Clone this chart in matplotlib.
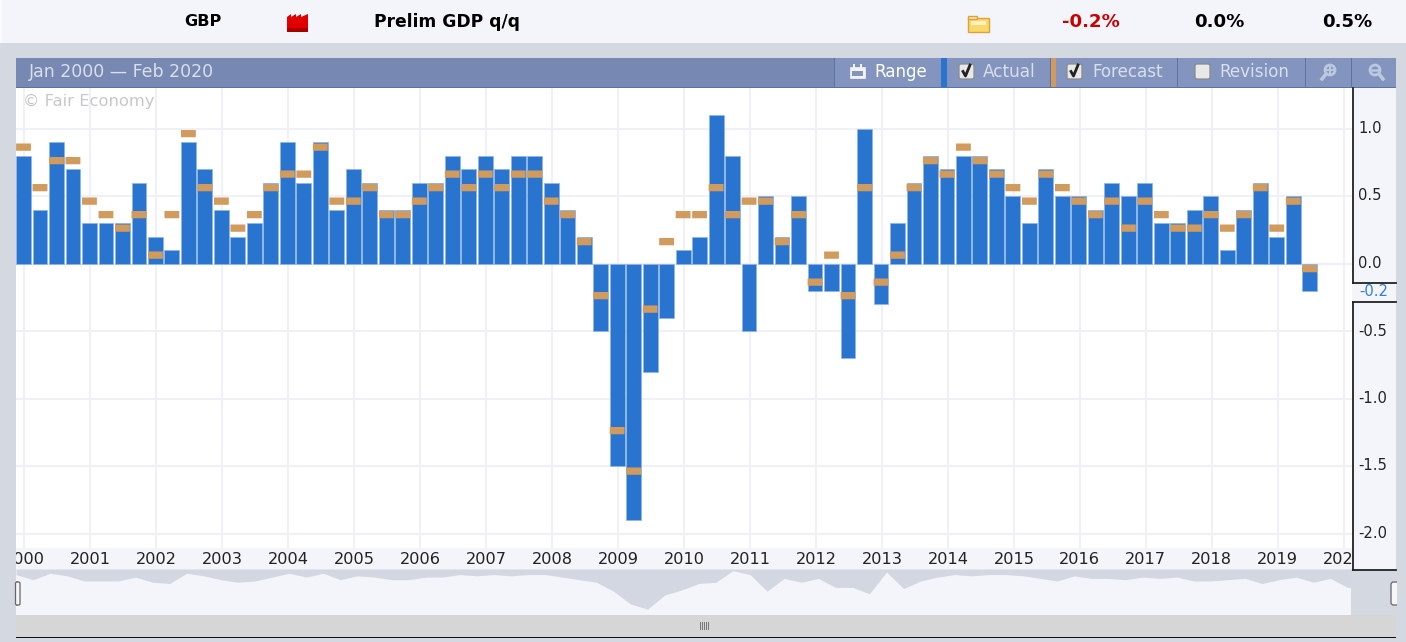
import matplotlib
matplotlib.use("Agg")
import matplotlib.pyplot as plt
from matplotlib.patches import Rectangle, FancyBboxPatch, Polygon, Circle
import numpy as np

# Quarterly values
actual = [0.8, 0.4, 0.9, 0.7, 0.3, 0.3, 0.3, 0.6, 0.2, 0.1, 0.9, 0.7, 0.4, 0.2, 0.3, 0.6,
          0.9, 0.6, 0.9, 0.4, 0.7, 0.6, 0.4, 0.4, 0.6, 0.6, 0.8, 0.7, 0.8, 0.7, 0.8, 0.8,
          0.6, 0.4, 0.2, -0.5, -1.5, -1.9, -0.8, -0.4, 0.1, 0.2, 1.1, 0.8, -0.5, 0.5, 0.2, 0.5,
          -0.2, -0.2, -0.7, 1.0, -0.3, 0.3, 0.6, 0.8, 0.7, 0.8, 0.8, 0.7, 0.5, 0.3, 0.7, 0.5,
          0.5, 0.4, 0.6, 0.5, 0.6, 0.3, 0.3, 0.4, 0.5, 0.1, 0.4, 0.6, 0.2, 0.5, -0.2]
forecast = [0.9, 0.6, 0.8, 0.8, 0.5, 0.4, 0.3, 0.4, 0.1, 0.4, 1.0, 0.6, 0.5, 0.3, 0.4, 0.6,
            0.7, 0.7, 0.9, 0.5, 0.5, 0.6, 0.4, 0.4, 0.5, 0.6, 0.7, 0.6, 0.7, 0.6, 0.7, 0.7,
            0.5, 0.4, 0.2, -0.2, -1.2, -1.5, -0.3, 0.2, 0.4, 0.4, 0.6, 0.4, 0.5, 0.5, 0.2, 0.4,
            -0.1, 0.1, -0.2, 0.6, -0.1, 0.1, 0.6, 0.8, 0.7, 0.9, 0.8, 0.7, 0.6, 0.5, 0.7, 0.6,
            0.5, 0.4, 0.5, 0.3, 0.5, 0.4, 0.3, 0.3, 0.4, 0.3, 0.4, 0.6, 0.3, 0.5, 0.0]
years = list(range(2000, 2021))
y_ticks = [-2.0, -1.5, -1.0, -0.5, 0.0, 0.5, 1.0]

W, H = 1406, 642
BG = '#d4d8e1'
PANEL = '#f4f5fa'
BLUE = '#2874cf'
ORANGE = '#d29b5e'
HEAD = '#7789b3'
BTN = '#8395bf'
LINE = '#5a72a8'
TXT = '#d9dfeb'
ICON = '#bcc8df'


def px_axes(l, t, r, b, zorder):
    # axes placed by pixel box, y counted from the top of the image
    return fig.add_axes([l / W, 1 - b / H, (r - l) / W, (b - t) / H], zorder=zorder)


fig = plt.figure(figsize=(W / 100, H / 100), dpi=100, facecolor=BG)

# Page furniture in pixel coordinates
bg = px_axes(0, 0, W, H, 0)
bg.set_xlim(0, W)
bg.set_ylim(H, 0)
bg.axis('off')
bg.add_patch(Rectangle((2, 0), W, 43, color=PANEL, lw=0))
bg.add_patch(Rectangle((0, 0), 2, 43, color='#fbfbfd', lw=0))
bg.add_patch(Rectangle((16, 58), 1380, 30, color=HEAD, lw=0))
bg.add_patch(Rectangle((834, 58), 562, 29, color=BTN, lw=0))
bg.add_patch(Rectangle((16, 86.5), 1380, 1.5, color=LINE, lw=0))
for sx in [834, 1050, 1177, 1305, 1351]:
    bg.add_patch(Rectangle((sx - 0.5, 58), 1.5, 30, color=LINE, lw=0))
bg.add_patch(Rectangle((941, 58), 6, 29, color=BLUE, lw=0))
bg.add_patch(Rectangle((1051, 58), 5, 29, color=ORANGE, lw=0))
bg.add_patch(Rectangle((16, 548), 1336, 21, color=PANEL, lw=0))
bg.add_patch(Rectangle((16, 615), 1380, 22, color='#d6d6d6', lw=0))
bg.add_patch(Rectangle((16, 636.5), 1380, 1.5, color='#111111', lw=0))
for gx in range(700, 710, 2):
    bg.add_patch(Rectangle((gx, 622), 1, 8, color='#777777', lw=0))

# Header row
head_font = dict(fontweight='bold', va='center', family='DejaVu Sans')
bg.text(184, 22, 'GBP', color='black', fontsize=11.6, **head_font)
bg.text(374, 22, 'Prelim GDP q/q', color='black', fontsize=12.3, **head_font)
bg.text(1062, 22, '-0.2%', color='#c80000', fontsize=13.1, **head_font)
bg.text(1194, 22, '0.0%', color='black', fontsize=13.1, **head_font)
bg.text(1322, 22, '0.5%', color='black', fontsize=13.1, **head_font)
bg.add_patch(Polygon([(287, 32), (287, 17), (291, 14), (291, 17), (296, 14), (296, 17),
                      (301, 14), (301, 17), (308, 14), (308, 32)], color='#e00000', lw=0))
bg.add_patch(Rectangle((287, 28), 21, 4, color='#a80000', lw=0))
bg.add_patch(Rectangle((968, 18), 21, 14, facecolor='#fbd968', edgecolor='#e0a040', lw=1))
bg.add_patch(Rectangle((968, 16), 9, 3, facecolor='#f8e8a8', edgecolor='#e0a040', lw=1))
bg.add_patch(Rectangle((971, 21), 15, 4, color='#fdf3c0', lw=0))

# Title bar
bg.text(29, 72, 'Jan 2000 \u2014 Feb 2020', color=TXT, fontsize=12.5, va='center')
bg.text(874, 72, 'Range', color='white', fontsize=12.1, va='center')
bg.text(983, 72, 'Actual', color=TXT, fontsize=12.2, va='center')
bg.text(1092, 72, 'Forecast', color=TXT, fontsize=12.1, va='center')
bg.text(1219, 72, 'Revision', color=TXT, fontsize=12.1, va='center')
# calendar icon
bg.add_patch(Rectangle((850, 67), 15, 11, facecolor='#f2f4f9', edgecolor='#f2f4f9', lw=0.5))
bg.add_patch(Rectangle((852, 71), 11, 5, color=BTN, lw=0))
bg.add_patch(Rectangle((853, 64), 2, 4, color='#f2f4f9', lw=0))
bg.add_patch(Rectangle((860, 64), 2, 4, color='#f2f4f9', lw=0))
# check boxes
for cx, ticked in [(959, True), (1067, True), (1195, False)]:
    bg.add_patch(FancyBboxPatch((cx + 1, 65), 13, 13, boxstyle='round,pad=1,rounding_size=2',
                                facecolor='#e8e8e8', edgecolor='#8a8a8a', lw=0.9))
    if ticked:
        bg.plot([cx + 4, cx + 6.5, cx + 11], [71.5, 76, 65], color='#222222', lw=2)
# zoom icons
bg.add_patch(Circle((1330, 70), 5, facecolor='none', edgecolor=ICON, lw=2))
bg.plot([1326, 1322], [74, 79], color=ICON, lw=2.5)
bg.plot([1327, 1333], [70, 70], color=ICON, lw=1.5)
bg.plot([1330, 1330], [67, 73], color=ICON, lw=1.5)
bg.add_patch(Circle((1375, 70), 5, facecolor='none', edgecolor=ICON, lw=2))
bg.plot([1379, 1383], [74, 79], color=ICON, lw=2.5)
bg.plot([1372, 1378], [70, 70], color=ICON, lw=1.8)

# Main chart
x = np.arange(len(actual))
x0, step = 23.5, 16.49
y0, unit = 263.5, 135.0
ax = px_axes(16, 88, 1352, 548, 1)
ax.set_xlim((16 - x0) / step, (1352 - x0) / step)
ax.set_ylim((y0 - 548) / unit, (y0 - 88) / unit)
for s in ax.spines.values():
    s.set_visible(False)
ax.set_axisbelow(True)
ax.grid(True, color='#eff1f7', lw=1.5)
ax.set_xticks([(yr - 2000) * 4 + 0.06 for yr in years])
ax.set_xticklabels([str(yr) for yr in years], fontsize=11.6, color='#222222')
ax.set_yticks(y_ticks)
ax.tick_params(length=0, labelleft=False, pad=3)
ax.axhline(0, color='#d3dbe9', lw=1.5, zorder=0.5)

ax.bar(x, actual, width=0.9, color=BLUE, edgecolor='#8fb4e8', lw=0.5, zorder=2)
fc = np.array(forecast)
fc_bars = ax.bar(x, [0.054] * len(x), bottom=fc - 0.065, width=0.9, color=ORANGE, zorder=3)
# keep all the forecast dashes the same height
for p in fc_bars:
    p.set_snap(False)
ax.text(0.005, 0.97, '\u00a9 Fair Economy', transform=ax.transAxes, color='#c8c8c8',
        fontsize=11.8, va='center', ha='left')

# Overview strip under the chart
ov = px_axes(16, 569, 1351, 615, 1)
ov_step = 17.07
ov.set_xlim(0, (1351 - 16) / ov_step)
ov.set_ylim((584.8 - 615) / 12.8, (584.8 - 569) / 12.8)
ov.set_facecolor(PANEL)
for s in ov.spines.values():
    s.set_visible(False)
ov.set_xticks([])
ov.set_yticks([])
ov.fill_between(list(x) + [ov.get_xlim()[1]], actual + [actual[-1]], ov.get_ylim()[1], color='#d3d7e1', lw=0)

# Right value panel, drawn over the clipped 2020 label
panel = px_axes(1352, 88, 1396, 570, 2)
panel.set_xlim(0, 44)
panel.set_ylim((y0 - 570) / unit, (y0 - 88) / unit)
panel.set_facecolor(PANEL)
panel.set_xticks([])
panel.set_yticks([])
for s in panel.spines.values():
    s.set_visible(False)
for v in y_ticks:
    panel.text(6, v, f'{v:.1f}', color='#222222', fontsize=10.6, va='center', ha='left')

# Furniture on top of the others
top = px_axes(0, 0, W, H, 3)
top.set_xlim(0, W)
top.set_ylim(H, 0)
top.axis('off')
top.plot([1352.5, 1352.5], [88, 283], color='#222222', lw=1.3)
top.plot([1352.5, 1396], [283, 283], color='#222222', lw=1.3)
top.plot([1352.5, 1396], [301.5, 301.5], color='#222222', lw=1.3)
top.plot([1352.5, 1352.5], [301.5, 569.5], color='#222222', lw=1.3)
top.plot([1352.5, 1396], [569.5, 569.5], color='#222222', lw=1.3)
top.text(1359, 292, f'{actual[-1]:.1f}', color='#2f7de0', fontsize=10.6, va='center', ha='left')
# slider handles, each half hidden by the page edge
for hx in [11, 1391]:
    top.add_patch(FancyBboxPatch((hx + 1.5, 583.5), 5, 20, boxstyle='round,pad=1.5,rounding_size=2.5',
                                 facecolor='#f6f6f6', edgecolor='#666666', lw=0.9))
top.add_patch(Rectangle((0, 548), 16, 94, color=BG, lw=0))
top.add_patch(Rectangle((1397, 43), 9, H, color=BG, lw=0))
top.add_patch(FancyBboxPatch((17, 583.5), 1.5, 20, boxstyle='round,pad=1.5,rounding_size=1.5',
                             facecolor='#f6f6f6', edgecolor='#666666', lw=0.9))

fig.savefig('out.png', dpi=100, facecolor=fig.get_facecolor())
